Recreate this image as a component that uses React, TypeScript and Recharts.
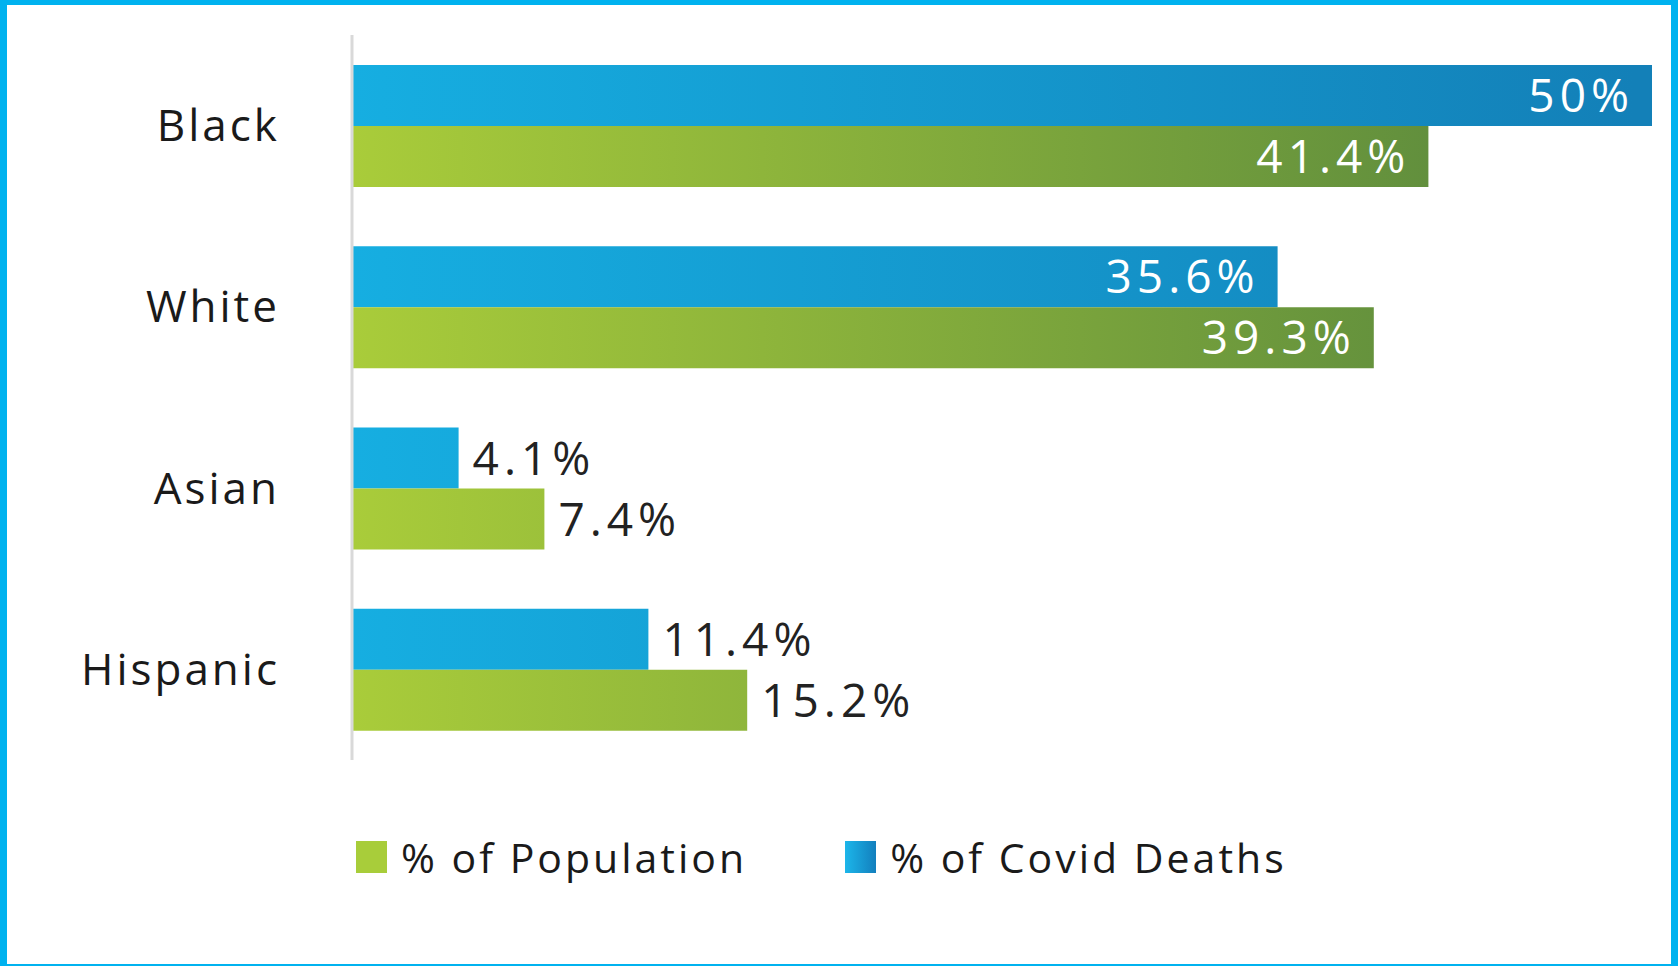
import React from 'react';
import { BarChart, Bar, XAxis, YAxis, Legend, LabelList } from 'recharts';

const groups = ['Black', 'White', 'Asian', 'Hispanic'];
const covidDeaths = [50, 35.6, 4.1, 11.4];
const population = [41.4, 39.3, 7.4, 15.2];

const data = groups.map((name, i) => ({
  name,
  deaths: covidDeaths[i],
  population: population[i],
}));

const FONT = '"Open Sans", "Noto Sans", sans-serif';

// big bars get their label inside in white, short ones outside in dark
const renderValue = (props: any) => {
  const { x, y, width, height, value } = props;
  const inside = width > 600;
  return (
    <text
      x={inside ? x + width - 18 : x + width + 14}
      y={y + height / 2}
      dy="0.36em"
      textAnchor={inside ? 'end' : 'start'}
      fill={inside ? '#ffffff' : '#222222'}
      fontSize={46}
      letterSpacing={5}
      fontFamily={FONT}
    >
      {value}%
    </text>
  );
};

const LegendBox = () => (
  <div
    style={{
      display: 'flex',
      alignItems: 'center',
      paddingLeft: 356,
      height: 48,
      fontFamily: FONT,
      fontSize: 41,
      letterSpacing: 3,
      color: '#1a1a1a',
    }}
  >
    <span style={{ width: 31, height: 32, background: '#a8cd3a', display: 'inline-block' }} />
    <span style={{ marginLeft: 14, marginRight: 98 }}>% of Population</span>
    <span
      style={{
        width: 31,
        height: 32,
        background: 'linear-gradient(to right, #1cb6ea, #137fbd)',
        display: 'inline-block',
      }}
    />
    <span style={{ marginLeft: 14 }}>% of Covid Deaths</span>
  </div>
);

export default function App() {
  return (
    <div style={{ position: 'fixed', left: 0, top: 0, width: 1678, height: 966, background: '#fff' }}>
      <BarChart
        width={1678}
        height={966}
        data={data}
        layout="vertical"
        margin={{ top: 35, right: 26, bottom: 206, left: 0 }}
        barCategoryGap={30}
        barGap={0}
      >
        <defs>
          <linearGradient id="blueGrad" gradientUnits="userSpaceOnUse" x1={354} y1={0} x2={1634} y2={0}>
            <stop offset="0%" stopColor="#16aee1" />
            <stop offset="100%" stopColor="#1380b8" />
          </linearGradient>
          <linearGradient id="greenGrad" gradientUnits="userSpaceOnUse" x1={354} y1={0} x2={1488} y2={0}>
            <stop offset="0%" stopColor="#a9cc3a" />
            <stop offset="100%" stopColor="#5e8c3d" />
          </linearGradient>
        </defs>
        <XAxis type="number" domain={[0, 50]} hide />
        <YAxis
          type="category"
          dataKey="name"
          width={352}
          tickLine={false}
          tickSize={0}
          tickMargin={72}
          axisLine={{ stroke: '#d9d9d9', strokeWidth: 3 }}
          tick={{ fontSize: 44, fill: '#1a1a1a', fontFamily: FONT, letterSpacing: 3 }}
        />
        <Bar dataKey="deaths" fill="url(#blueGrad)" isAnimationActive={false}>
          <LabelList dataKey="deaths" content={renderValue} />
        </Bar>
        <Bar dataKey="population" fill="url(#greenGrad)" isAnimationActive={false}>
          <LabelList dataKey="population" content={renderValue} />
        </Bar>
        <Legend
          verticalAlign="middle"
          align="center"
          content={() => <LegendBox />}
          wrapperStyle={{ top: 833, left: 0, width: 1678 }}
        />
      </BarChart>
      <div
        style={{
          position: 'absolute',
          left: 0,
          top: 0,
          width: 1678,
          height: 966,
          boxSizing: 'border-box',
          borderStyle: 'solid',
          borderColor: '#00b2ef',
          borderWidth: '5px 7px 2px 7px',
          pointerEvents: 'none',
        }}
      />
    </div>
  );
}
